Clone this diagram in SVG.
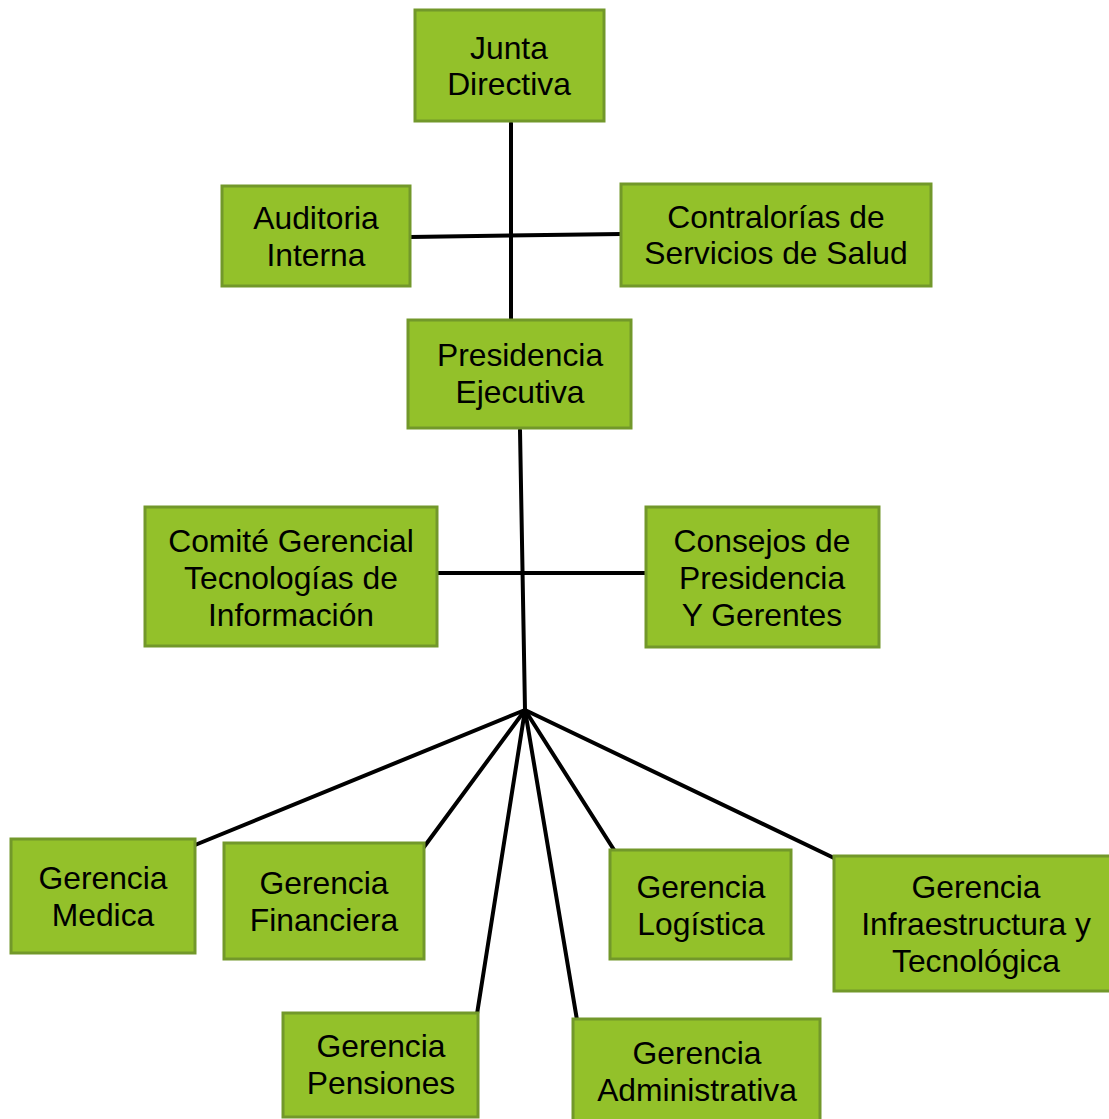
<svg xmlns="http://www.w3.org/2000/svg" width="1109" height="1119" viewBox="0 0 1109 1119">
<style>
.box{fill:#93C12A;stroke:#72982A;stroke-width:3}
.t{font-family:"Liberation Sans",Arial,sans-serif;font-size:31.8px;fill:#000;text-anchor:middle}
.c{stroke:#000;stroke-width:4;fill:none;stroke-linecap:round}
</style>
<rect width="1109" height="1119" fill="#fff"/>
<g id="connectors">
<line class="c" x1="511" y1="123" x2="511" y2="322"/>
<line class="c" x1="410" y1="237" x2="622" y2="234"/>
<line class="c" x1="520" y1="430" x2="525" y2="710"/>
<line class="c" x1="438" y1="573" x2="647" y2="573"/>
<line class="c" x1="525" y1="710" x2="195" y2="845"/>
<line class="c" x1="525" y1="710" x2="424" y2="847"/>
<line class="c" x1="525" y1="710" x2="477" y2="1014"/>
<line class="c" x1="525" y1="710" x2="577" y2="1020"/>
<line class="c" x1="525" y1="710" x2="616" y2="853"/>
<line class="c" x1="525" y1="710" x2="834" y2="858"/>
</g>
<g id="junta"><rect class="box" x="415" y="10" width="189" height="111"/><text class="t" x="509" y="59">Junta</text><text class="t" x="509" y="95">Directiva</text></g>
<g id="auditoria"><rect class="box" x="222" y="186" width="188" height="100"/><text class="t" x="316" y="229">Auditoria</text><text class="t" x="316" y="266">Interna</text></g>
<g id="contralorias"><rect class="box" x="621" y="184" width="310" height="102"/><text class="t" x="776" y="228">Contralorías de</text><text class="t" x="776" y="264">Servicios de Salud</text></g>
<g id="presidencia"><rect class="box" x="408" y="320" width="223" height="108"/><text class="t" x="520" y="366">Presidencia</text><text class="t" x="520" y="403">Ejecutiva</text></g>
<g id="comite"><rect class="box" x="145" y="507" width="292" height="139"/><text class="t" x="291" y="552">Comité Gerencial</text><text class="t" x="291" y="589">Tecnologías de</text><text class="t" x="291" y="626">Información</text></g>
<g id="consejos"><rect class="box" x="646" y="507" width="233" height="140"/><text class="t" x="762" y="552">Consejos de</text><text class="t" x="762" y="589">Presidencia</text><text class="t" x="762" y="626">Y Gerentes</text></g>
<g id="medica"><rect class="box" x="11" y="839" width="184" height="114"/><text class="t" x="103" y="889">Gerencia</text><text class="t" x="103" y="926">Medica</text></g>
<g id="financiera"><rect class="box" x="224" y="843" width="200" height="116"/><text class="t" x="324" y="894">Gerencia</text><text class="t" x="324" y="931">Financiera</text></g>
<g id="logistica"><rect class="box" x="610" y="850" width="181" height="109"/><text class="t" x="701" y="898">Gerencia</text><text class="t" x="701" y="935">Logística</text></g>
<g id="infraestructura"><rect class="box" x="834" y="856" width="280" height="135"/><text class="t" x="976" y="898">Gerencia</text><text class="t" x="976" y="935">Infraestructura y</text><text class="t" x="976" y="972">Tecnológica</text></g>
<g id="pensiones"><rect class="box" x="283" y="1013" width="195" height="104"/><text class="t" x="381" y="1057">Gerencia</text><text class="t" x="381" y="1094">Pensiones</text></g>
<g id="administrativa"><rect class="box" x="573" y="1019" width="247" height="110"/><text class="t" x="697" y="1064">Gerencia</text><text class="t" x="697" y="1101">Administrativa</text></g>
</svg>
